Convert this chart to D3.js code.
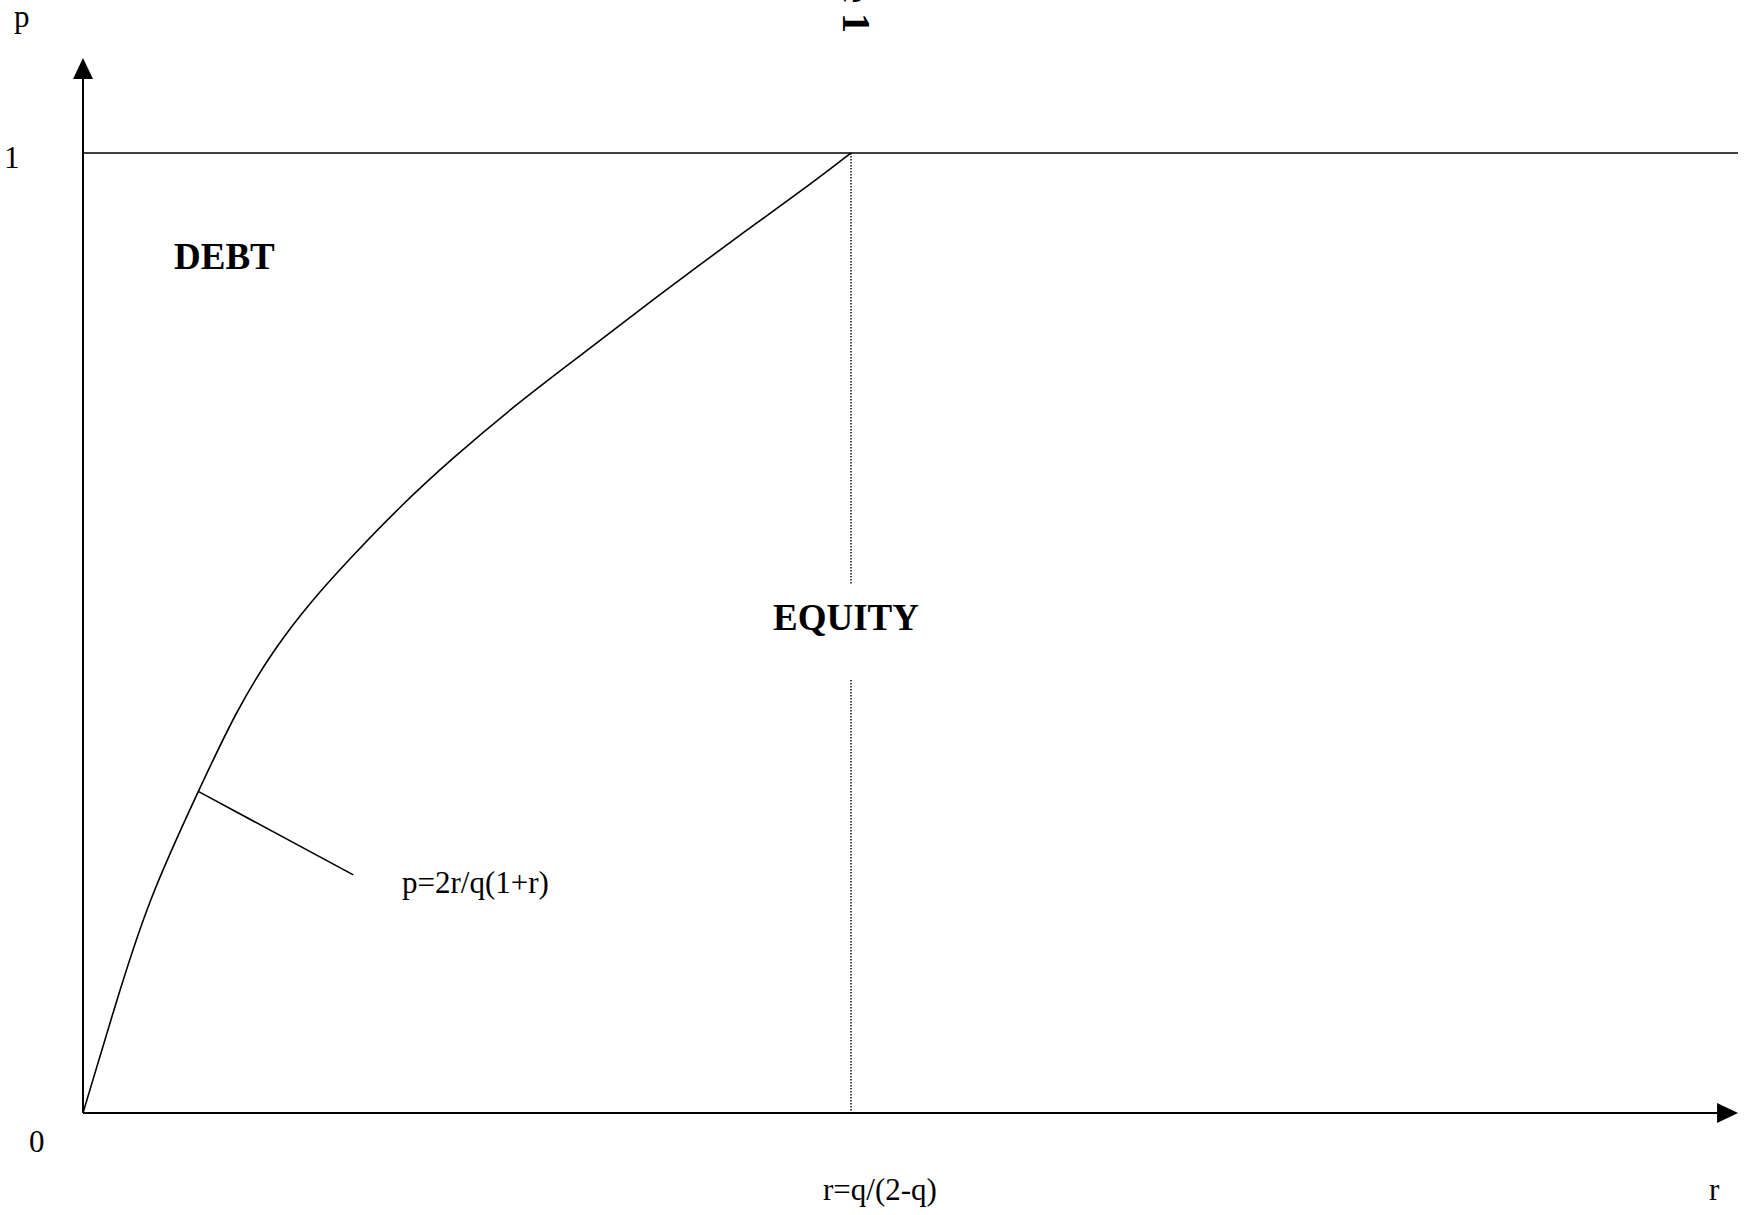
<!DOCTYPE html>
<html>
<head>
<meta charset="utf-8">
<script src="https://cdn.jsdelivr.net/npm/d3@7"></script>
<style>
  body { margin: 0; background: #fff; }
  svg { display: block; }
  text { font-family: "Liberation Serif", "Times New Roman", serif; fill: #000; }
</style>
</head>
<body>
<div id="chart"></div>
<script>
// curve p = 2r/q(1+r) (r scaled so r=q/(2-q) is 1)
const curve_r = [0, 0.044, 0.085, 0.15, 0.2, 0.25, 0.298, 0.348, 0.413, 0.478, 0.565, 0.651, 0.738, 0.868, 0.955, 1];
const curve_p = [0, 0.118, 0.222, 0.335, 0.42, 0.485, 0.534, 0.578, 0.632, 0.68, 0.739, 0.791, 0.845, 0.922, 0.972, 1];

// callout line from the curve to the formula label
const pointer_r = [0.15, 0.352];
const pointer_p = [0.335, 0.248];

// axis extents
const r_end = 2.155;
const p_end = 1.099;
const r_star = 1;
const p_top = 1;

// gap in the dotted line behind EQUITY
const gap_p = [0.451, 0.55];

const W = 1751, H = 1215;
const svg = d3.select("#chart").append("svg").attr("width", W).attr("height", H);

const x = d3.scaleLinear().domain([0, 1]).range([83, 851]);
const y = d3.scaleLinear().domain([0, 1]).range([1113, 153]);

// axes
svg.append("line")
  .attr("x1", x(0)).attr("y1", y(0))
  .attr("x2", x(r_end) - 14).attr("y2", y(0))
  .attr("stroke", "#000").attr("stroke-width", 2);
svg.append("line")
  .attr("x1", x(0)).attr("y1", y(0))
  .attr("x2", x(0)).attr("y2", y(p_end) + 14)
  .attr("stroke", "#000").attr("stroke-width", 2);

// arrow heads
const tipX = [x(r_end), y(0)];
svg.append("path")
  .attr("d", `M${tipX[0]},${tipX[1]} L${tipX[0] - 21},${tipX[1] - 10} L${tipX[0] - 21},${tipX[1] + 10} Z`)
  .attr("fill", "#000");
const tipY = [x(0), y(p_end)];
svg.append("path")
  .attr("d", `M${tipY[0]},${tipY[1]} L${tipY[0] - 10},${tipY[1] + 21} L${tipY[0] + 10},${tipY[1] + 21} Z`)
  .attr("fill", "#000");

// p = 1 line
svg.append("line")
  .attr("x1", x(0)).attr("y1", y(p_top))
  .attr("x2", x(r_end)).attr("y2", y(p_top))
  .attr("stroke", "#000").attr("stroke-width", 1.6);

// dotted line at r = q/(2-q)
const dotted = [[p_top, gap_p[1]], [gap_p[0], 0]];
svg.append("g")
  .selectAll("line")
  .data(dotted)
  .join("line")
  .attr("x1", x(r_star)).attr("x2", x(r_star))
  .attr("y1", (d) => y(d[0])).attr("y2", (d) => y(d[1]))
  .attr("stroke", "#111")
  .attr("stroke-width", 1.5)
  .attr("stroke-dasharray", "1.5,1.5");

// the curve
const pts = curve_r.map((r, i) => [r, curve_p[i]]);
const line = d3.line()
  .x((d) => x(d[0]))
  .y((d) => y(d[1]))
  .curve(d3.curveBasis);
svg.append("path")
  .attr("d", line(pts))
  .attr("fill", "none")
  .attr("stroke", "#000")
  .attr("stroke-width", 1.6);

// callout line
svg.append("line")
  .attr("x1", x(pointer_r[0])).attr("y1", y(pointer_p[0]))
  .attr("x2", x(pointer_r[1])).attr("y2", y(pointer_p[1]))
  .attr("stroke", "#000").attr("stroke-width", 1.6);

// labels
const add_text = (tx, ty, str, size, bold) =>
  svg.append("text")
    .attr("x", tx).attr("y", ty)
    .attr("font-size", size)
    .attr("font-weight", bold ? "bold" : "normal")
    .text(str);

add_text(14, 27, "p", 31);
add_text(4, 168, "1", 31);
add_text(29, 1152, "0", 31);
add_text(1709, 1200, "r", 31);
add_text(823, 1200, "r=q/(2-q)", 31);
add_text(402, 893, "p=2r/q(1+r)", 31);
add_text(174, 269, "DEBT", 37, true);
add_text(773, 630, "EQUITY", 37, true);

// rotated title, cut by the top edge as in the original
svg.append("text")
  .attr("transform", `translate(843,33) rotate(90)`)
  .attr("text-anchor", "end")
  .attr("font-size", 40)
  .attr("font-weight", "bold")
  .text("Figure 1");
</script>
</body>
</html>
